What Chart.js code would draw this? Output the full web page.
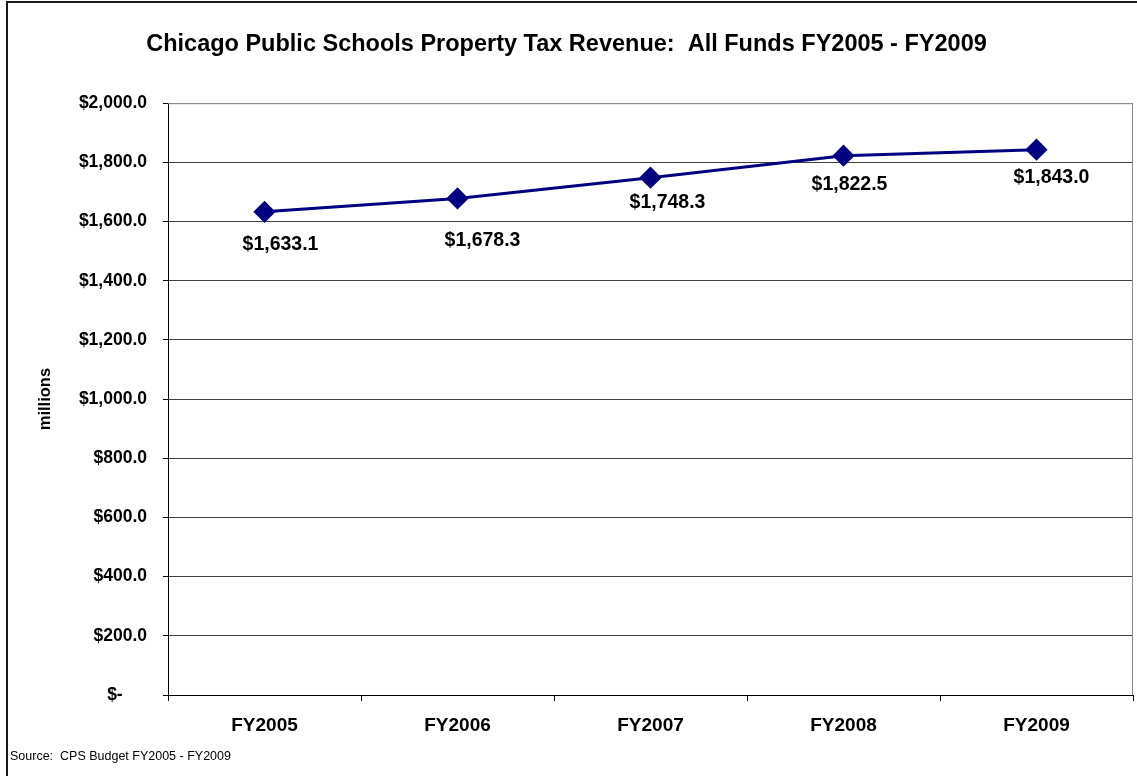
<!DOCTYPE html>
<html>
<head>
<meta charset="utf-8">
<script src="https://cdn.jsdelivr.net/npm/chart.js@4"></script>
<style>
  html, body { margin: 0; padding: 0; background: #fff; }
  #wrap { width: 1137px; height: 776px; position: relative; }
</style>
</head>
<body>
<div id="wrap"><canvas id="chart"></canvas></div>
<script>
// data
var years = ['FY2005', 'FY2006', 'FY2007', 'FY2008', 'FY2009'];
var revenue = [1633.1, 1678.3, 1748.3, 1822.5, 1843.0];
var yMin = 0;
var yMax = 2000;
var yStep = 200;

// label nudges (pixels), Excel labels were hand placed
var labelDx = [16, 25, 17, 6, 15];
var labelDy = [33, 42, 25, 29, 28];

var FONT = 'Arial, "Liberation Sans", sans-serif';

function money(v) {
    if (v === 0) {
        return '$-     ';
    }
    return '$' + Number(v).toLocaleString('en-US', { minimumFractionDigits: 1, maximumFractionDigits: 1 });
}

var decorPlugin = {
    id: 'decor',
    afterDatasetsDraw: function (chart) {
        var ctx = chart.ctx;
        var meta = chart.getDatasetMeta(0);
        ctx.save();
        ctx.font = 'bold 19.5px ' + FONT;
        ctx.fillStyle = '#000';
        ctx.textAlign = 'center';
        ctx.textBaseline = 'middle';
        meta.data.forEach(function (pt, i) {
            ctx.fillText(money(revenue[i]), pt.x + labelDx[i], pt.y + labelDy[i]);
        });
        ctx.restore();
    },
    afterDraw: function (chart) {
        var ctx = chart.ctx;
        var a = chart.chartArea;
        ctx.save();
        // plot area frame (top + right), light gray
        ctx.strokeStyle = '#8c8c8c';
        ctx.lineWidth = 1;
        ctx.beginPath();
        ctx.moveTo(a.left, a.top + 0.5);
        ctx.lineTo(a.right - 0.5, a.top + 0.5);
        ctx.lineTo(a.right - 0.5, a.bottom);
        ctx.stroke();
        // outer chart border
        ctx.strokeStyle = '#1a1a1a';
        ctx.lineWidth = 2;
        ctx.beginPath();
        ctx.moveTo(7, 776);
        ctx.lineTo(7, 2);
        ctx.lineTo(1137, 2);
        ctx.stroke();
        // source note
        ctx.font = '12.5px ' + FONT;
        ctx.fillStyle = '#000';
        ctx.textAlign = 'left';
        ctx.textBaseline = 'middle';
        ctx.fillText('Source:  CPS Budget FY2005 - FY2009', 10, 757);
        ctx.restore();
    }
};

new Chart(document.getElementById('chart'), {
    type: 'line',
    data: {
        labels: years,
        datasets: [{
            data: revenue,
            borderColor: '#000080',
            backgroundColor: '#000080',
            borderWidth: 3,
            pointStyle: 'rectRot',
            pointRadius: 9,
            pointHoverRadius: 9,
            tension: 0,
            fill: false
        }]
    },
    options: {
        responsive: true,
        maintainAspectRatio: false,
        animation: false,
        layout: {
            autoPadding: false,
            padding: { left: 0, right: 4, top: 0, bottom: 0 }
        },
        plugins: {
            legend: { display: false },
            tooltip: { enabled: false },
            title: {
                display: true,
                text: 'Chicago Public Schools Property Tax Revenue:  All Funds FY2005 - FY2009',
                color: '#000',
                font: { family: FONT, size: 23.5, weight: 'bold' },
                padding: { top: 30, bottom: 45 }
            }
        },
        scales: {
            x: {
                offset: true,
                grid: {
                    offset: true,
                    drawOnChartArea: false,
                    drawTicks: true,
                    tickLength: 6,
                    color: '#000'
                },
                border: { color: '#000', width: 1 },
                ticks: {
                    color: '#000',
                    padding: 13,
                    font: { family: FONT, size: 19, weight: 'bold' }
                },
                afterFit: function (s) {
                    s.height = 81;
                    s.paddingLeft = 0;
                    s.paddingRight = 0;
                }
            },
            y: {
                min: yMin,
                max: yMax,
                grid: {
                    color: function (c) {
                        return c.tick && c.tick.value === yMax ? '#8c8c8c' : '#404040';
                    },
                    tickColor: '#000',
                    tickLength: 5
                },
                border: { color: '#000', width: 1 },
                ticks: {
                    stepSize: yStep,
                    color: '#000',
                    padding: 16,
                    font: { family: FONT, size: 17.5, weight: 'bold' },
                    callback: function (v) { return money(v); }
                },
                title: {
                    display: true,
                    text: 'millions',
                    color: '#000',
                    font: { family: FONT, size: 16.5, weight: 'bold' },
                    padding: { top: 36, bottom: 0 }
                },
                afterFit: function (s) { s.width = 168; }
            }
        }
    },
    plugins: [decorPlugin]
});
</script>
</body>
</html>
